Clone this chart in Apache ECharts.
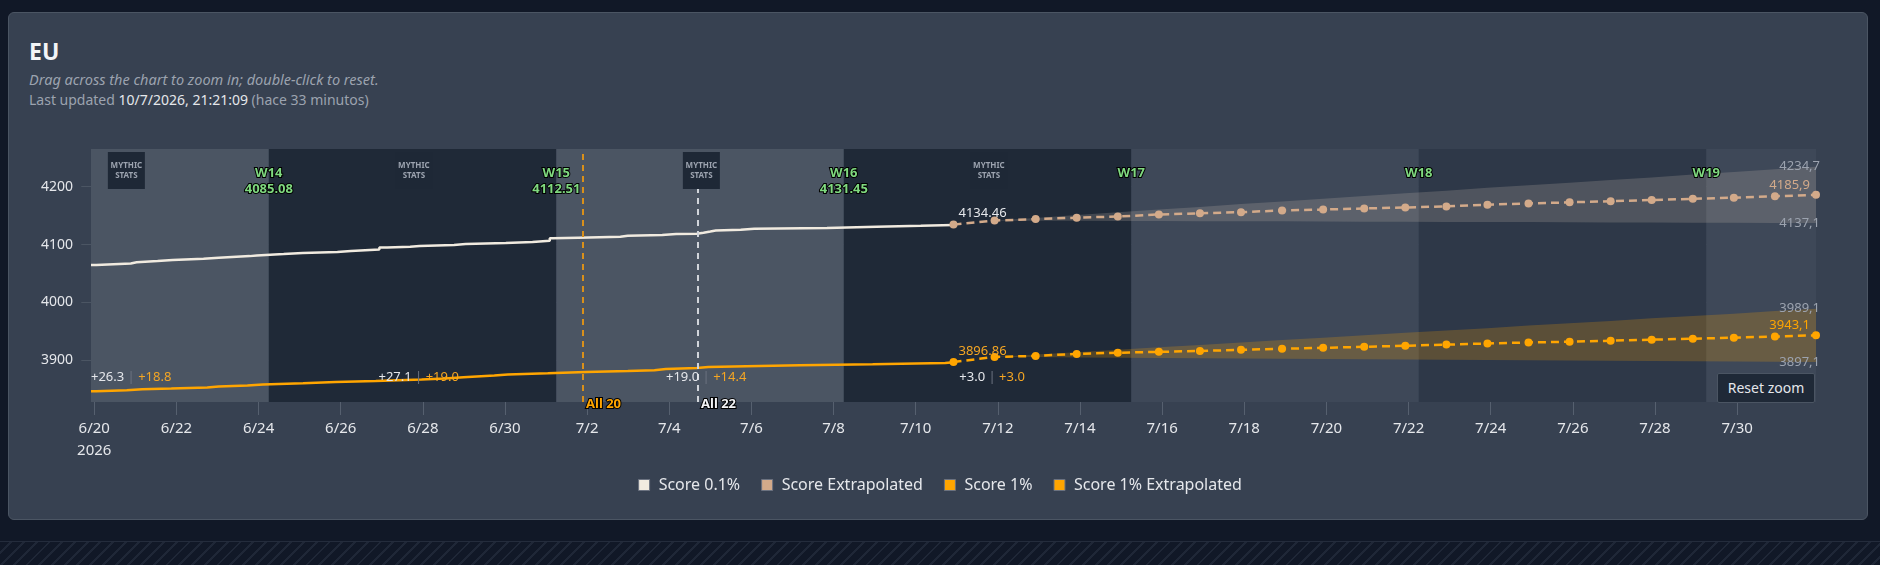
<!DOCTYPE html>
<html>
<head>
<meta charset="utf-8">
<title>EU</title>
<script src="https://cdn.jsdelivr.net/npm/echarts@6/dist/echarts.min.js"></script>
<style>
  html, body { margin: 0; padding: 0; background: #111827; }
  body { width: 1880px; height: 565px; position: relative; overflow: hidden; font-family: 'Noto Sans', 'DejaVu Sans', sans-serif; }
  .hatch {
    position: absolute; left: 0; top: 541px; width: 1880px; height: 24px;
    border-top: 1px solid #242c3c;
    background: repeating-linear-gradient(135deg, transparent 0 7px, #1f2737 7px 9px);
  }
  .card {
    position: absolute; left: 8px; top: 12px; width: 1858px; height: 506px;
    background: #374151; border: 1px solid #4b5563; border-radius: 6px;
  }
  .title { position: absolute; left: 29px; top: 38px; font-size: 23px; line-height: 26px; font-weight: 700; color: #f3f4f6; }
  .sub { position: absolute; left: 29px; top: 70px; font-size: 14.5px; line-height: 18px; font-style: italic; color: #9ca3af; }
  .updated { position: absolute; left: 29px; top: 91px; font-size: 14px; line-height: 18px; color: #9ca3af; }
  .updated b { font-weight: 400; color: #e5e7eb; }
  #chart { position: absolute; left: 0; top: 0; width: 1880px; height: 565px; }
  .reset {
    position: absolute; left: 1717px; top: 373px; width: 98px; height: 30px; z-index: 5;
    background: #1f2937; border: 1px solid #4b5563; border-radius: 2px; box-sizing: border-box;
    color: #e5e7eb; font-size: 14px; line-height: 28px; text-align: center;
  }
</style>
</head>
<body>
<div class="hatch"></div>
<div class="card"></div>
<div class="title">EU</div>
<div class="sub">Drag across the chart to zoom in; double-click to reset.</div>
<div class="updated">Last updated <b>10/7/2026, 21:21:09</b> (hace 33 minutos)</div>
<div id="chart"></div>
<div class="reset">Reset zoom</div>

<script>
// --- data ---
const START = '2026-06-19 22:05'
const NOW = '2026-07-10 22:05'
const END = '2026-07-31 22:05'

const score01 = [
  ['2026-06-19 22:05', 4064.5], ['2026-06-20 01:10', 4067.4], ['2026-06-20 21:20', 4069.4],
  ['2026-06-21 00:45', 4071.4], ['2026-06-21 13:00', 4073.1], ['2026-06-21 21:50', 4075.4],
  ['2026-06-22 15:50', 4077.1], ['2026-06-23 00:45', 4080.0], ['2026-06-23 18:50', 4081.2],
  ['2026-06-23 23:00', 4083.5], ['2026-06-24 14:40', 4085.3], ['2026-06-25 01:50', 4087.0],
  ['2026-06-25 22:05', 4088.7], ['2026-06-26 06:00', 4091.6], ['2026-06-26 22:35', 4095.1],
  ['2026-06-27 03:10', 4096.2], ['2026-06-27 16:35', 4097.4], ['2026-06-27 22:05', 4099.1],
  ['2026-06-28 18:15', 4100.8], ['2026-06-29 01:00', 4102.6], ['2026-06-30 00:30', 4104.3],
  ['2026-06-30 16:05', 4106.6], ['2026-07-01 02:10', 4110.7], ['2026-07-01 04:00', 4111.7],
  ['2026-07-01 18:45', 4113.5], ['2026-07-02 19:25', 4115.2], ['2026-07-02 23:45', 4116.4],
  ['2026-07-03 19:55', 4118.1], ['2026-07-04 04:00', 4118.7], ['2026-07-04 16:05', 4120.5],
  ['2026-07-04 20:00', 4122.5], ['2026-07-05 00:00', 4124.2], ['2026-07-05 03:10', 4125.6],
  ['2026-07-05 17:45', 4127.3], ['2026-07-06 01:40', 4128.5], ['2026-07-07 20:10', 4130.8],
  ['2026-07-09 01:10', 4132.3], ['2026-07-10 02:55', 4133.7], ['2026-07-10 22:05', 4134.46]
]

const score1 = [
  ['2026-06-19 22:05', 3846.3], ['2026-06-20 01:10', 3848.1], ['2026-06-20 19:00', 3849.8],
  ['2026-06-21 04:00', 3851.0], ['2026-06-21 21:00', 3852.7], ['2026-06-22 18:00', 3854.4],
  ['2026-06-23 00:45', 3856.2], ['2026-06-23 17:30', 3857.9], ['2026-06-24 02:30', 3860.2],
  ['2026-06-25 02:00', 3862.5], ['2026-06-25 21:00', 3864.2], ['2026-06-26 20:30', 3866.6],
  ['2026-06-27 23:15', 3868.3], ['2026-06-28 12:45', 3870.6], ['2026-06-28 23:45', 3873.5],
  ['2026-06-29 17:45', 3875.2], ['2026-06-30 01:40', 3877.5], ['2026-07-01 01:00', 3879.8],
  ['2026-07-01 23:20', 3881.5], ['2026-07-02 23:45', 3882.7], ['2026-07-03 15:20', 3885.0],
  ['2026-07-03 22:00', 3886.7], ['2026-07-04 16:05', 3888.4], ['2026-07-04 22:50', 3889.6],
  ['2026-07-05 21:00', 3891.3], ['2026-07-07 04:20', 3893.2], ['2026-07-08 22:50', 3895.4],
  ['2026-07-10 17:15', 3896.5], ['2026-07-10 22:05', 3896.86]
]

// extrapolation: one point per day from NOW to END
const extrapDays = [
  '2026-07-10 22:05', '2026-07-11 22:05', '2026-07-12 22:05', '2026-07-13 22:05', '2026-07-14 22:05',
  '2026-07-15 22:05', '2026-07-16 22:05', '2026-07-17 22:05', '2026-07-18 22:05', '2026-07-19 22:05',
  '2026-07-20 22:05', '2026-07-21 22:05', '2026-07-22 22:05', '2026-07-23 22:05', '2026-07-24 22:05',
  '2026-07-25 22:05', '2026-07-26 22:05', '2026-07-27 22:05', '2026-07-28 22:05', '2026-07-29 22:05',
  '2026-07-30 22:05', '2026-07-31 22:05'
]
const extrap01 = [4134.46, 4141.5, 4144.0, 4146.5, 4148.5, 4152.0, 4154.0, 4156.0, 4159.0, 4160.5, 4162.5,
  4164.0, 4166.0, 4169.0, 4171.0, 4173.0, 4175.0, 4177.0, 4179.0, 4181.0, 4183.5, 4185.9]
const extrap1 = [3896.86, 3905.8, 3907.5, 3911.0, 3913.0, 3914.5, 3916.0, 3918.0, 3919.8, 3921.5, 3923.2,
  3925.0, 3927.0, 3929.0, 3930.8, 3932.0, 3933.8, 3935.5, 3937.3, 3939.0, 3941.0, 3943.1]

// confidence range, from the first extrapolated day on
const band01Upper = [4141.5, 4146.0, 4151.0, 4156.0, 4160.5, 4165.0, 4170.0, 4174.5, 4179.0, 4184.0, 4188.5,
  4193.0, 4198.0, 4202.5, 4207.0, 4211.5, 4216.0, 4221.0, 4225.5, 4230.0, 4234.7]
const band01Lower = [4141.5, 4141.3, 4141.1, 4140.9, 4140.7, 4140.5, 4140.3, 4140.1, 4139.8, 4139.6, 4139.4,
  4139.2, 4139.0, 4138.8, 4138.6, 4138.3, 4138.1, 4137.9, 4137.7, 4137.4, 4137.1]
const band1Upper = [3905.8, 3910.0, 3914.0, 3918.0, 3922.5, 3926.5, 3930.5, 3934.8, 3939.0, 3943.0, 3947.5,
  3951.5, 3955.5, 3960.0, 3964.0, 3968.0, 3972.5, 3976.5, 3980.5, 3985.0, 3989.1]
const band1Lower = [3905.8, 3905.4, 3904.9, 3904.5, 3904.0, 3903.6, 3903.2, 3902.7, 3902.3, 3901.9, 3901.4,
  3901.0, 3900.6, 3900.1, 3899.7, 3899.3, 3898.8, 3898.4, 3898.0, 3897.5, 3897.1]

// weeks
const weekEdges = ['2026-06-19 22:05', '2026-06-24 06:00', '2026-07-01 06:00', '2026-07-08 06:00',
  '2026-07-15 06:00', '2026-07-22 06:00', '2026-07-29 06:00', '2026-07-31 22:05']
const weekNames = ['W14', 'W15', 'W16', 'W17', 'W18', 'W19']
const weekScores = [4085.08, 4112.51, 4131.45, null, null, null]

const mythicTimes = ['2026-06-20 18:45', '2026-06-27 18:45', '2026-07-04 18:45', '2026-07-11 18:45']

const gainTimes = ['2026-06-19 22:05', '2026-06-26 22:05', '2026-07-03 22:05', '2026-07-11 01:30']
const gain01 = ['+26.3', '+27.1', '+19.0', '+3.0']
const gain1 = ['+18.8', '+19.0', '+14.4', '+3.0']

const eventTimes = ['2026-07-01 21:35', '2026-07-04 16:50']
const eventNames = ['All 20', 'All 22']

const xTicks = ['2026-06-20', '2026-06-22', '2026-06-24', '2026-06-26', '2026-06-28', '2026-06-30',
  '2026-07-02', '2026-07-04', '2026-07-06', '2026-07-08', '2026-07-10', '2026-07-12', '2026-07-14',
  '2026-07-16', '2026-07-18', '2026-07-20', '2026-07-22', '2026-07-24', '2026-07-26', '2026-07-28', '2026-07-30']
const yTicks = [3900, 4000, 4100, 4200]
const Y_MIN = 3827.8
const Y_MAX = 4265.2

// --- styles ---
const C_TOP = '#f1ebe0'
const C_TOP_EX = '#d3aa8a'
const C_ORANGE = '#ffa500'
const C_TEXT = '#e5e7eb'
const BAND_COLORS = ['#4b5563', '#1f2937', '#4b5563', '#1f2937', '#3e4858', '#2e3848', '#3e4858']
const FONT = "'Noto Sans', 'DejaVu Sans', sans-serif"

// the x axis runs in days counted from the first tick (6/20 00:00)
const DAY = 86400000
const ms = s => Date.UTC(+s.slice(0, 4), +s.slice(5, 7) - 1, +s.slice(8, 10), +(s.slice(11, 13) || 0), +(s.slice(14, 16) || 0))
const BASE = ms(xTicks[0])
const day = s => (ms(s) - BASE) / DAY
const comma = v => v.toFixed(1).replace('.', ',')
const pairs = arr => arr.map(p => [day(p[0]), p[1]])
const zip = (days, vals) => vals.map((v, i) => [day(days[i]), v])

const outline = { textBorderColor: '#000', textBorderWidth: 2 }
const noMark = { symbol: 'rect', symbolSize: 1, itemStyle: { color: 'transparent' } }

const chart = echarts.init(document.getElementById('chart'), null, { renderer: 'canvas' })

const weekAreas = BAND_COLORS.map((c, i) => [
  { xAxis: day(weekEdges[i]), itemStyle: { color: c } },
  { xAxis: day(weekEdges[i + 1]) }
])

const weekLabelPoints = []
weekNames.forEach((name, i) => {
  const t = day(weekEdges[i + 1])
  weekLabelPoints.push({
    ...noMark, coord: [t, 4223.7],
    label: { show: true, position: 'inside', formatter: name, color: '#7fd97f', fontWeight: 'bold', fontSize: 13, ...outline }
  })
  if (weekScores[i] != null) {
    weekLabelPoints.push({
      ...noMark, coord: [t, 4196],
      label: { show: true, position: 'inside', formatter: weekScores[i].toFixed(2), color: '#7fd97f', fontWeight: 'bold', fontSize: 13, ...outline }
    })
  }
})

const mythicPoints = mythicTimes.map(t => ({
  coord: [day(t), 4228], symbol: 'rect', symbolSize: [37, 37],
  itemStyle: { color: '#1e2836' },
  label: { show: true, position: 'inside', formatter: 'MYTHIC\nSTATS', color: '#9ca3af', fontSize: 8, fontWeight: 'bold', lineHeight: 10 }
}))

const gainPoints = gainTimes.map((t, i) => ({
  ...noMark, coord: [day(t), 3869.7],
  label: {
    show: true, position: 'inside', align: 'left',
    formatter: `{a|${gain01[i]}}{s| | }{b|${gain1[i]}}`,
    rich: {
      a: { color: C_TEXT, fontSize: 13 },
      s: { color: '#6b7280', fontSize: 13 },
      b: { color: '#f5a623', fontSize: 13 }
    }
  }
}))

const endLabel = (t, v, text, color, offset, align) => ({
  ...noMark, coord: [day(t), v],
  label: { show: true, position: 'inside', align: align, offset: offset, formatter: text, color: color, fontSize: 13 }
})

const bandDays = extrapDays.slice(1)
const xTickDays = xTicks.map(d => day(d))

// confidence range drawn as one polygon through the axis scales
const rangeSeries = (upper, lower, fill) => ({
  type: 'custom', z: 2, silent: true,
  data: [[day(bandDays[0]), lower[0]]],
  renderItem: (params, api) => {
    const top = bandDays.map((t, i) => api.coord([day(t), upper[i]]))
    const bottom = bandDays.map((t, i) => api.coord([day(t), lower[i]])).reverse()
    return { type: 'polygon', shape: { points: top.concat(bottom) }, style: { fill: fill } }
  }
})

const option = {
  animation: false,
  textStyle: { fontFamily: FONT },
  grid: { left: 91, top: 149, width: 1725, height: 253 },
  legend: {
    data: ['Score 0.1%', 'Score Extrapolated', 'Score 1%', 'Score 1% Extrapolated'],
    left: 'center', top: 472, icon: 'rect', itemWidth: 11, itemHeight: 11, itemGap: 21,
    itemStyle: { borderColor: '#6b7280', borderWidth: 1 },
    textStyle: { color: C_TEXT, fontSize: 16, fontFamily: FONT, padding: [0, 0, 0, 4] }
  },
  xAxis: {
    type: 'value', min: day(START), max: day(END), minInterval: 2, maxInterval: 2,
    axisLine: { show: false },
    axisTick: { show: true, length: 13, lineStyle: { color: '#56606f' }, customValues: xTickDays },
    axisLabel: {
      color: C_TEXT, fontSize: 15, margin: 16, lineHeight: 22,
      customValues: xTickDays,
      formatter: value => {
        const d = new Date(BASE + value * DAY)
        const s = (d.getUTCMonth() + 1) + '/' + d.getUTCDate()
        return Math.abs(value - xTickDays[0]) < 1e-6 ? s + '\n' + d.getUTCFullYear() : s
      }
    },
    splitLine: { show: true, lineStyle: { color: 'rgba(255,255,255,0.06)' } }
  },
  yAxis: {
    type: 'value', min: Y_MIN, max: Y_MAX, minInterval: 100, maxInterval: 100,
    axisLine: { show: false },
    axisTick: { show: true, length: 13, lineStyle: { color: '#4b5563' }, customValues: yTicks },
    axisLabel: { color: C_TEXT, fontSize: 14, margin: 18, customValues: yTicks, formatter: v => String(v) },
    splitLine: { show: true, lineStyle: { color: 'rgba(255,255,255,0.07)' } }
  },
  series: [
    rangeSeries(band01Upper, band01Lower, 'rgba(215,200,185,0.2)'),
    rangeSeries(band1Upper, band1Lower, 'rgba(255,165,0,0.22)'),
    {
      name: 'Score 0.1%', type: 'line', step: 'end', z: 3,
      data: pairs(score01), symbol: 'none', color: C_TOP,
      lineStyle: { width: 2.5, color: C_TOP },
      markArea: { silent: true, z: 1, data: weekAreas },
      markLine: {
        silent: true, symbol: 'none',
        data: eventTimes.map((t, i) => ({
          xAxis: day(t),
          lineStyle: { color: i === 0 ? '#d9901a' : '#d1d5db', type: [6, 5], width: 2 },
          label: {
            show: true, position: 'start', align: 'left', distance: -4, offset: [3, 0],
            formatter: eventNames[i], color: i === 0 ? C_ORANGE : '#f3f4f6',
            fontWeight: 'bold', fontSize: 13, ...outline
          }
        }))
      },
      markPoint: {
        silent: true,
        data: [
          ...mythicPoints,
          ...weekLabelPoints,
          endLabel(NOW, 4134.46, '4134.46', C_TEXT, [5, -11], 'left')
        ]
      }
    },
    {
      name: 'Score Extrapolated', type: 'line', z: 3,
      data: zip(extrapDays, extrap01), color: C_TOP_EX,
      symbol: 'circle', symbolSize: 8, showAllSymbol: true,
      lineStyle: { width: 2.5, type: [8, 5], color: C_TOP_EX },
      itemStyle: { color: C_TOP_EX },
      markPoint: {
        silent: true,
        data: [
          endLabel(END, 4185.9, comma(4185.9), C_TOP_EX, [-6, -10], 'right'),
          endLabel(END, 4234.7, comma(4234.7), '#9ca3af', [4, 0], 'right'),
          endLabel(END, 4137.1, comma(4137.1), '#9ca3af', [4, 0], 'right')
        ]
      }
    },
    {
      name: 'Score 1%', type: 'line', step: 'end', z: 3,
      data: pairs(score1), symbol: 'none', color: C_ORANGE,
      lineStyle: { width: 2.5, color: C_ORANGE },
      markPoint: {
        silent: true,
        data: [
          ...gainPoints,
          endLabel(NOW, 3896.86, '3896.86', '#f5a623', [5, -11], 'left')
        ]
      }
    },
    {
      name: 'Score 1% Extrapolated', type: 'line', z: 3,
      data: zip(extrapDays, extrap1), color: C_ORANGE,
      symbol: 'circle', symbolSize: 8, showAllSymbol: true,
      lineStyle: { width: 2.5, type: [8, 5], color: C_ORANGE },
      itemStyle: { color: C_ORANGE },
      markPoint: {
        silent: true,
        data: [
          endLabel(END, 3943.1, comma(3943.1), C_ORANGE, [-6, -10], 'right'),
          endLabel(END, 3989.1, comma(3989.1), '#9ca3af', [4, 0], 'right'),
          endLabel(END, 3897.1, comma(3897.1), '#9ca3af', [4, 0], 'right')
        ]
      }
    }
  ]
}

chart.setOption(option)
</script>
</body>
</html>
